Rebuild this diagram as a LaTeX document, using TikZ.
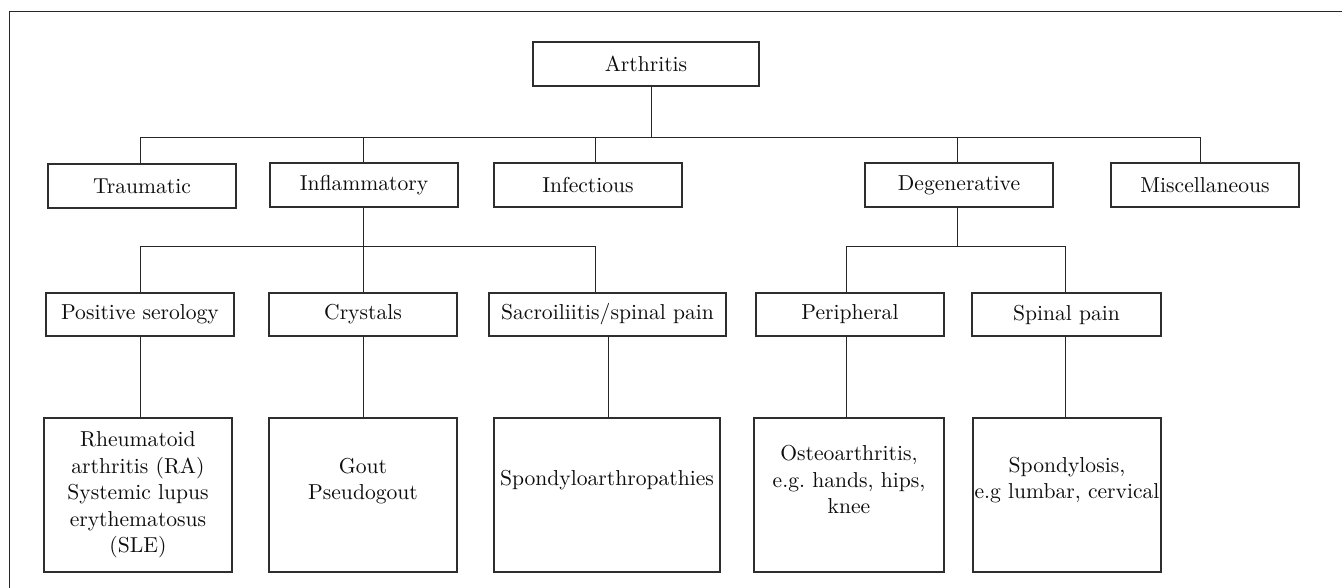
\documentclass[tikz,border=0pt]{standalone}
\usepackage{fontspec}
\setmainfont{lmroman10-regular}[Extension=.otf]
\frenchspacing
\begin{document}
\begin{tikzpicture}[x=1pt,y=-1pt,
  every node/.style={font=\fontsize{21.6}{26.5}\selectfont, text=black!95},
  box/.style={draw=black!82, line width=1.2pt, minimum height=44pt, inner sep=0pt},
  leaf/.style={draw=black!82, line width=1.2pt, minimum height=154pt, inner sep=0pt},
  txt/.style={align=center, inner sep=0pt},
  conn/.style={draw=black!85, line width=1pt}]
\useasboundingbox (0,0) rectangle (1342,588);
% outer frame (cropped)
\draw[black!85, line width=1pt] (1342,12) -- (9,12) -- (9,588);

% level 1
\node[box, minimum width=226pt] (arth) at (646,64) {Arthritis};

% level 2
\node[box, minimum width=188pt] (trau) at (142,186) {Traumatic};
\node[box, minimum width=188pt] (infl) at (364,185) {Inflammatory};
\node[box, minimum width=188pt] (infe) at (588,185) {Infectious};
\node[box, minimum width=188pt] (dege) at (959,185) {Degenerative};
\node[box, minimum width=188pt] (misc) at (1205,185) {Miscellaneous};

% level 3
\node[box, minimum width=188pt, minimum height=43pt] (pos) at (140,314.5) {Positive serology};
\node[box, minimum width=188pt, minimum height=43pt] (cry) at (363,314.5) {Crystals};
\node[box, minimum width=237pt, minimum height=43pt] (sac) at (607.5,314.5) {Sacroiliitis/spinal pain};
\node[box, minimum width=188pt, minimum height=43pt] (per) at (850,314.5) {Peripheral};
\node[box, minimum width=189pt, minimum height=43pt] (spi) at (1066.5,314.5) {Spinal pain};

% level 4
\node[leaf, minimum width=188pt] (ra) at (138,495) {};
\node[leaf, minimum width=188pt] (gout) at (363,495) {};
\node[leaf, minimum width=226pt] (spa) at (607,495) {};
\node[leaf, minimum width=190pt] (oa) at (849,495) {};
\node[leaf, minimum width=188pt] (sps) at (1067,495) {};

\node[txt] (raT) at (ra.center) {Rheumatoid\\arthritis (RA)\\Systemic lupus\\erythematosus\\(SLE)};
\node[txt] (goutT) at ([yshift=14pt]gout.center) {Gout\\Pseudogout};
\node[txt] (spaT) at ([yshift=15pt]spa.center) {Spondyloarthropathies};
\node[txt] (oaT) at ([yshift=15pt]oa.center) {Osteoarthritis,\\e.g. hands, hips,\\knee};
\node[txt] (spsT) at ([yshift=15pt]sps.center) {Spondylosis,\\e.g lumbar, cervical};

% bus coordinates
\coordinate (a1) at (651,86);
\coordinate (bus1) at (651,138);
\coordinate (b1L) at (140,138);
\coordinate (b1R) at (1200,138);
\coordinate (c1) at (363,138);
\coordinate (c2) at (595,138);
\coordinate (c3) at (957,138);

\coordinate (b2L) at (140,247);
\coordinate (b2R) at (595,247);
\coordinate (b2M) at (363,247);
\coordinate (b3L) at (846,247);
\coordinate (b3R) at (1065,247);
\coordinate (b3M) at (957,247);

% level 1 -> 2
\draw[conn] (a1) -- (bus1);
\draw[conn] (b1L |- trau.north) -- (b1L) -- (b1R) -- (b1R |- misc.north);
\draw[conn] (c1) -- (c1 |- infl.north);
\draw[conn] (c2) -- (c2 |- infe.north);
\draw[conn] (c3) -- (c3 |- dege.north);

% inflammatory -> level 3
\draw[conn] (b2M |- infl.south) -- (b2M |- cry.north);
\draw[conn] (b2L |- pos.north) -- (b2L) -- (b2R) -- (b2R |- sac.north);

% degenerative -> level 3
\draw[conn] (b3M |- dege.south) -- (b3M);
\draw[conn] (b3L |- per.north) -- (b3L) -- (b3R) -- (b3R |- spi.north);

% level 3 -> 4
\draw[conn] (b2L |- pos.south) -- (b2L |- ra.north);
\draw[conn] (cry.south) -- (cry.south |- gout.north);
\draw[conn] ([xshift=0.5pt]sac.south) -- ([xshift=0.5pt]sac.south |- spa.north);
\draw[conn] (b3L |- per.south) -- (b3L |- oa.north);
\draw[conn] (b3R |- spi.south) -- (b3R |- sps.north);
\end{tikzpicture}
\end{document}
